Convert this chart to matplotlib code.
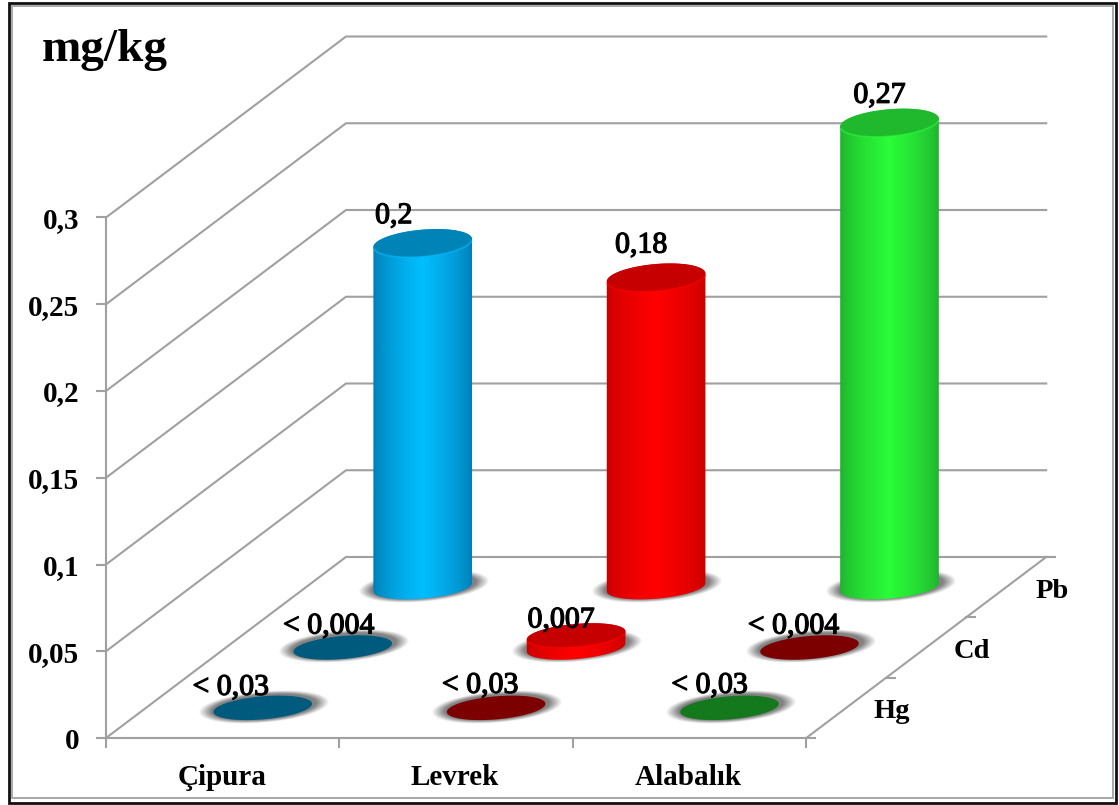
import numpy as np
import matplotlib
matplotlib.use("Agg")
import matplotlib.pyplot as plt
import matplotlib.patheffects as pe
from matplotlib.patches import Polygon, Rectangle
from matplotlib.path import Path

# ---- data -----------------------------------------------------------------
categories = ["Çipura", "Levrek", "Alabalık"]
series = ["Hg", "Cd", "Pb"]
y_ticks = [0, 0.05, 0.1, 0.15, 0.2, 0.25, 0.3]
y_tick_labels = ["0", "0,05", "0,1", "0,15", "0,2", "0,25", "0,3"]

# results below the detection limit are drawn flat on the floor
hg_values = [0, 0, 0]
cd_values = [0, 0.007, 0]
pb_values = [0.2, 0.18, 0.27]

hg_labels = ["< 0,03", "< 0,03", "< 0,03"]
cd_labels = ["< 0,004", "0,007", "< 0,004"]
pb_labels = ["0,2", "0,18", "0,27"]

# ---- styles ---------------------------------------------------------------
PALETTE = {
    "blue": dict(edge=(0, 118, 172), mid=(0, 190, 255), top=(0, 132, 184)),
    "red": dict(edge=(196, 0, 0), mid=(255, 0, 0), top=(198, 0, 0)),
    "green": dict(edge=(30, 170, 45), mid=(42, 252, 56), top=(32, 184, 44)),
    "navy": dict(edge=(0, 90, 125), mid=(0, 90, 125), top=(0, 90, 125)),
    "maroon": dict(edge=(125, 0, 0), mid=(125, 0, 0), top=(125, 0, 0)),
    "forest": dict(edge=(20, 120, 28), mid=(20, 120, 28), top=(20, 120, 28)),
}
hg_colors = ["navy", "maroon", "forest"]
cd_colors = ["navy", "red", "maroon"]
pb_colors = ["blue", "red", "green"]

GRID = "#a0a0a0"
SERIF = "Liberation Serif"

# oblique projection of the 3D box onto the canvas
ORIGIN_X, ORIGIN_Y = 106, 738
CAT_STEP = 233.4
DEPTH_DX, DEPTH_DY = 240, -181
VALUE_SCALE = 1735
BAR_SCALE = 1720
TILT = np.deg2rad(5)
MARK_A, MARK_B = 49.5, 11.5
TALL_TOP_B = 13.5
SHADOW_A, SHADOW_B = 66, 16

# label shifts relative to the top centre of each mark
pb_shift = [(-29, -27), (-15, -32), (-10, -27)]
cd_shift = [(-14, -21), (-15, -15), (-16, -21)]
hg_shift = [(-32, -20), (-16, -22), (-20, -22)]


def project(cat, depth, value=0.0, scale=VALUE_SCALE):
    x = ORIGIN_X + CAT_STEP * cat + DEPTH_DX * depth
    y = ORIGIN_Y + DEPTH_DY * depth - scale * value
    return x, y


def ellipse_xy(cx, cy, t, a=MARK_A, b=MARK_B):
    x = cx + a * np.cos(t) * np.cos(TILT) + b * np.sin(t) * np.sin(TILT)
    y = cy - a * np.cos(t) * np.sin(TILT) + b * np.sin(t) * np.cos(TILT)
    return x, y


def rgb(c):
    return np.array(c, dtype=float) / 255


def draw_shadow(ax, cx, cy):
    xs = np.arange(cx - SHADOW_A - 4, cx + SHADOW_A + 5)
    ys = np.arange(cy - SHADOW_B - 8, cy + SHADOW_B + 9)
    gx, gy = np.meshgrid(xs, ys)
    dx, dy = gx - cx, gy - cy
    u = dx * np.cos(TILT) - dy * np.sin(TILT)
    v = dx * np.sin(TILT) + dy * np.cos(TILT)
    r = np.hypot(u / SHADOW_A, v / SHADOW_B)
    alpha = np.clip((1.0 - r) / 0.2, 0, 1) * 0.72
    img = np.zeros(gx.shape + (4,))
    img[..., :3] = 0.32
    img[..., 3] = alpha
    ax.imshow(img, extent=(xs[0], xs[-1], ys[-1], ys[0]), zorder=2,
              interpolation="bilinear", aspect="auto")


def draw_cylinder(ax, cat, depth, value, style):
    colors = PALETTE[style]
    bx, by = project(cat, depth)
    tx, ty = project(cat, depth, value, BAR_SCALE)
    top_b = TALL_TOP_B if value > 0.05 else MARK_B
    t0 = np.arctan2(MARK_B * np.sin(TILT), MARK_A * np.cos(TILT))
    draw_shadow(ax, bx + 1, by - 1)
    if value > 0:
        t = np.linspace(t0, t0 + np.pi, 80)
        x1, y1 = ellipse_xy(bx, by, t)
        x2, y2 = ellipse_xy(tx, ty, t + np.pi, b=top_b)
        path = Path(np.column_stack([np.r_[x1, x2], np.r_[y1, y2]]))
        s = np.linspace(0, 1, 120)
        w = np.clip(1 - np.abs(2 * s - 1), 0, 1) ** 0.6
        grad = rgb(colors["edge"])[None, :] * (1 - w)[:, None] + rgb(colors["mid"])[None, :] * w[:, None]
        lo, hi = x1.min() - 1, x1.max() + 1
        im = ax.imshow(grad[None, :, :], extent=(lo, hi, by + 20, ty - 20),
                       zorder=3, aspect="auto", interpolation="bilinear")
        im.set_clip_path(path, ax.transData)
    tt = np.linspace(0, 2 * np.pi, 160)
    ex, ey = ellipse_xy(tx, ty, tt, b=top_b)
    ax.add_patch(Polygon(np.column_stack([ex, ey]), closed=True, fc=rgb(colors["top"]),
                         ec="none", zorder=4))
    if value > 0:
        tf = np.linspace(t0 + 0.15, t0 + np.pi - 0.15, 50)
        fx, fy = ellipse_xy(tx, ty, tf, b=top_b)
        ax.plot(fx, fy, color=rgb(colors["mid"]), lw=1.2, alpha=0.6, zorder=5)


fig = plt.figure(figsize=(11.19, 8.05), dpi=100)
ax = fig.add_axes([0, 0, 1, 1])
ax.set_axis_off()

# frame around the whole chart
ax.add_patch(Rectangle((8.5, 3.5), 1107, 799, fc="white", ec="#101010", lw=2, zorder=0))
ax.add_patch(Rectangle((11.5, 6.5), 1101, 791, fc="white", ec="#a8a8a8", lw=1.4, zorder=0.5))

# walls and floor
line = dict(color=GRID, lw=1.5, zorder=1, solid_capstyle="projecting", solid_joinstyle="miter")
n_cat, n_ser = len(categories), len(series)
for v, lab in zip(y_ticks, y_tick_labels):
    p0, p1, p2 = project(0, 0, v), project(0, 1, v), project(n_cat, 1, v)
    ax.plot([p0[0], p1[0], p2[0]], [p0[1], p1[1], p2[1]], **line)
    ax.plot([p0[0] - 9, p0[0]], [p0[1], p0[1]], **line)
    ax.text(79, p0[1] + 3, lab, ha="right", va="center", family=SERIF, weight="bold",
            fontsize=21, color="black", zorder=8)
p_top, p_bot = project(0, 0, y_ticks[-1]), project(0, 0)
ax.plot([p_top[0], p_bot[0]], [p_top[1], p_bot[1]], **line)
fr, br = project(n_cat, 0), project(n_cat, 1)
ax.plot([p_bot[0], fr[0], br[0]], [p_bot[1], fr[1], br[1]], **line)
for i in range(n_cat + 1):
    x, y = project(i, 0)
    ax.plot([x, x], [y, y + 9], **line)
for i in range(n_ser + 1):
    x, y = project(n_cat, i / n_ser)
    ax.plot([x, x + 9], [y, y], **line)

# axis captions
for i, name in enumerate(categories):
    x, y = project(i + 0.5, 0)
    ax.text(x - 1, y + 39, name, ha="center", va="center", family=SERIF, weight="bold",
            fontsize=21, zorder=8)
for i, name in enumerate(series):
    x, y = project(n_cat, (i + 0.5) / n_ser)
    ax.text(x + 46, y + 4, name, ha="center", va="center", family=SERIF, weight="bold",
            fontsize=20.5, zorder=8)
ax.text(42, 50, "mg/kg", ha="left", va="center", family=SERIF, weight="bold", fontsize=34, zorder=8)

# marks, back row first so nearer rows overlap farther ones
rows = [(pb_values, pb_colors, pb_labels, pb_shift, 2),
        (cd_values, cd_colors, cd_labels, cd_shift, 1),
        (hg_values, hg_colors, hg_labels, hg_shift, 0)]
halo = [pe.withStroke(linewidth=0.9, foreground="black")]
for values, cols, labels, shifts, row in rows:
    depth = (row + 0.5) / n_ser
    for i, (val, col, lab, sh) in enumerate(zip(values, cols, labels, shifts)):
        draw_cylinder(ax, i + 0.5, depth, val, col)
        x, y = project(i + 0.5, depth, val, BAR_SCALE)
        ax.text(x + sh[0], y + sh[1], lab, ha="center", va="center", family=SERIF,
                fontsize=21.5, zorder=7, path_effects=halo)

ax.set_xlim(0, 1119)
ax.set_ylim(805, 0)
fig.savefig("out.png", dpi=100, facecolor="white")
